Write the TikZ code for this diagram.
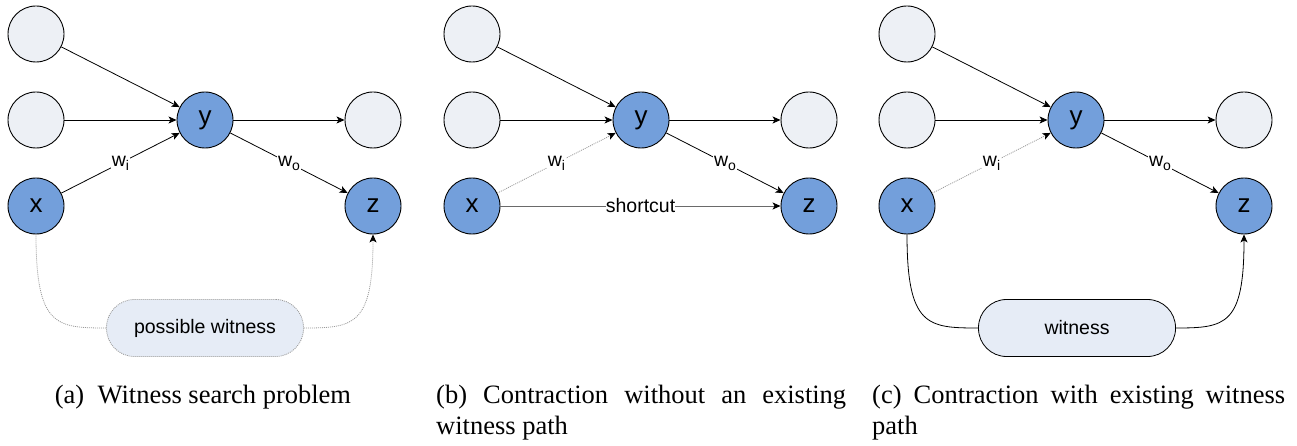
\documentclass[tikz,border=0pt]{standalone}
\usepackage{fontspec}
\setmainfont{Liberation Sans}
\newfontfamily\capfont{Liberation Serif}
\usetikzlibrary{arrows.meta}
\definecolor{nodeblue}{HTML}{739FDB}
\definecolor{nodegray}{HTML}{EDF0F5}
\definecolor{boxfill}{HTML}{E6ECF6}
\definecolor{dotgray}{HTML}{9A9A9A}
\definecolor{shortgray}{HTML}{6A6A6A}

% the five vertices shared by every panel, names prefixed by #1
\newcommand\basegraph[1]{%
  \node[idle]   (#1tl) at (36,34)   {};
  \node[idle]   (#1ml) at (36,120)  {};
  \node[active] (#1x)  at (36,206)  {x};
  \node[active] (#1y)  at (205,120) {y};
  \node[idle]   (#1r)  at (373,120) {};
  \node[active] (#1z)  at (373,206) {z};
  \draw[arc] (#1tl) -- (#1y);
  \draw[arc] (#1ml) -- (#1y);
  \draw[arc] (#1y) -- (#1r);
  \draw[arc] (#1y) -- node[elabel] {w\raisebox{-4pt}{\fontsize{14}{14}\selectfont o}} (#1z);
}
\newcommand\wilabel{w\raisebox{-4pt}{\fontsize{14}{14}\selectfont i}}

\begin{document}
\begin{tikzpicture}[x=1pt,y=-1pt,
  vertex/.style={circle, draw=black, line width=0.9pt, minimum size=56pt,
    inner sep=0pt, font=\fontsize{26}{26}\selectfont},
  active/.style={vertex, fill=nodeblue},
  idle/.style={vertex, fill=nodegray},
  tip/.style={-{Stealth[length=8pt,width=7pt,inset=2pt,color=black]}},
  arc/.style={line width=0.8pt, tip},
  dotarc/.style={line width=0.8pt, draw=dotgray, dash pattern=on 1pt off 1pt},
  elabel/.style={fill=white, inner sep=1pt, font=\fontsize{19.5}{20}\selectfont},
  pathbox/.style={rectangle, rounded corners=28pt, minimum width=197pt,
    minimum height=57pt, fill=boxfill, line width=0.8pt,
    font=\fontsize{19.5}{20}\selectfont},
  caption/.style={font=\capfont\fontsize{26.5}{31}\selectfont, inner sep=0pt}
]
\useasboundingbox (0,0) rectangle (1297,446);

% (a) witness search problem
\begin{scope}
  \basegraph{a}
  \draw[arc] (ax) -- node[elabel] {\wilabel} (ay);
  \node[pathbox, draw=dotgray, dash pattern=on 1pt off 1pt] (aw) at (205,328) {possible witness};
  \draw[dotarc] (ax.south) to[out=-90, in=180, out looseness=2, in looseness=1.1] (aw.west);
  \draw[dotarc, tip] (aw.east) to[out=0, in=-90, out looseness=1.1, in looseness=2] (az.south);
\end{scope}
\node[caption, anchor=base] (capa) at (203,403) {(a)\hspace{0.5em}Witness search problem};

% (b) contraction adds a shortcut
\begin{scope}[xshift=436pt]
  \basegraph{b}
  \draw[dotarc, tip] (bx) -- node[elabel] {\wilabel} (by);
  \draw[line width=0.8pt, draw=shortgray, tip] (bx) -- node[elabel, inner sep=0pt] {shortcut} (bz);
\end{scope}
\node[caption, anchor=base west, text width=410pt, align=justify] (capb) at (436,403)
  {(b) Contraction without an existing witness path};

% (c) contraction when a witness already exists
\begin{scope}[xshift=871pt]
  \basegraph{c}
  \draw[dotarc, tip] (cx) -- node[elabel] {\wilabel} (cy);
  \node[pathbox, draw=black] (cw) at (206,328) {witness};
  \draw[line width=0.8pt] (cx.south) to[out=-90, in=180, out looseness=2, in looseness=1.1] (cw.west);
  \draw[arc] (cw.east) to[out=0, in=-90, out looseness=1.1, in looseness=2] (cz.south);
\end{scope}
\node[caption, anchor=base west, text width=413pt, align=justify] (capc) at (872,403)
  {(c) Contraction with existing witness path};
\end{tikzpicture}
\end{document}
